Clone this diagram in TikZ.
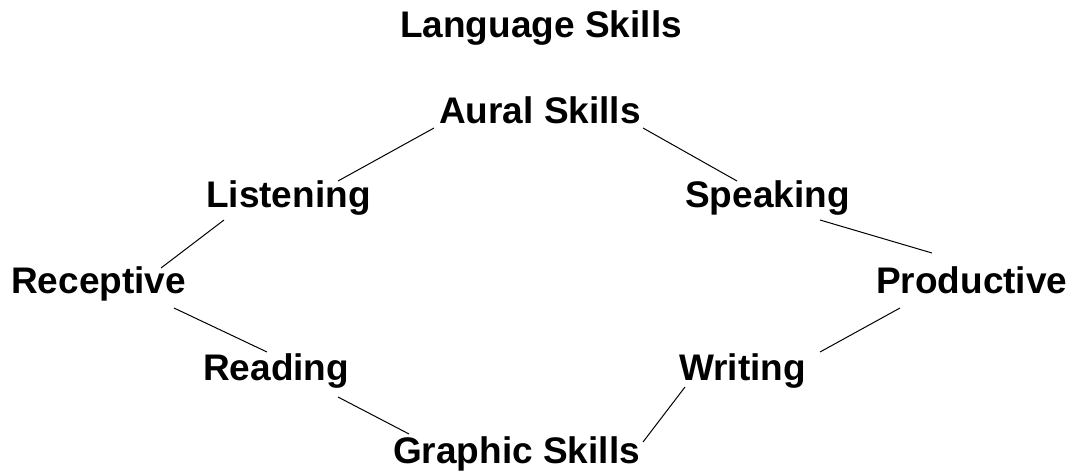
\documentclass[tikz,border=0pt]{standalone}
\usepackage{fontspec}
\setmainfont{Liberation Sans}
\usepackage{tikz}
\usetikzlibrary{positioning}

\begin{document}
\begin{tikzpicture}[x=1pt,y=-1pt]
	\tikzset{skill/.style={anchor=base west,inner sep=0pt,font=\fontsize{37}{44}\selectfont\bfseries}}
	\useasboundingbox (0,0) rectangle (1071,472);
	\node[skill] (lang) at (400,37) {Language Skills};
	\node[skill] (aural) at (439,123) {Aural Skills};
	\node[skill] (listen) at (206,207) {Listening};
	\node[skill] (speak) at (685,207) {Speaking};
	\node[skill] (recep) at (11,293) {Receptive};
	\node[skill] (prod) at (876,293) {Productive};
	\node[skill] (read) at (203,380) {Reading};
	\node[skill] (write) at (679,380) {Writing};
	\node[skill] (graph) at (393,463) {Graphic Skills};
	\path[draw,line width=1pt]
		([shift={(-5,5)}]aural.base west) edge ([shift={(132,-26)}]listen.base west)
		([shift={(204,5)}]aural.base west) edge ([shift={(52,-26)}]speak.base west)
		([shift={(18,13)}]listen.base west) edge ([shift={(150,-25)}]recep.base west)
		([shift={(135,13)}]speak.base west) edge ([shift={(56,-40)}]prod.base west)
		([shift={(163,15)}]recep.base west) edge ([shift={(64,-28)}]read.base west)
		([shift={(24,15)}]prod.base west) edge ([shift={(141,-28)}]write.base west)
		([shift={(135,17)}]read.base west) edge ([shift={(16,-29)}]graph.base west)
		([shift={(6,7)}]write.base west) edge ([shift={(250,-21)}]graph.base west);
\end{tikzpicture}
\end{document}
